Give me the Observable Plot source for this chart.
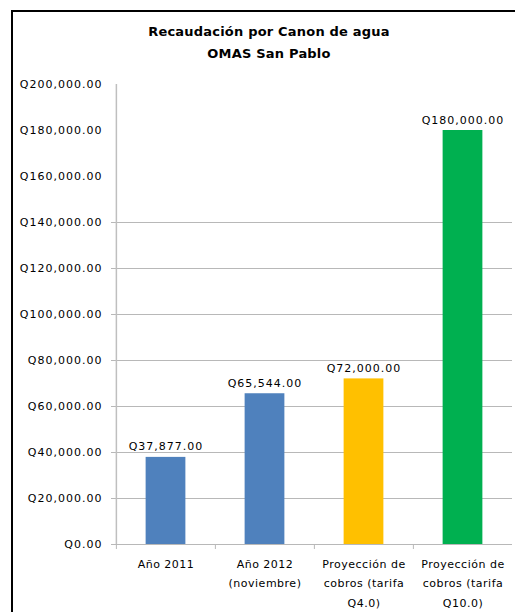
<!DOCTYPE html>
<html>
<head>
<meta charset="utf-8">
<script src="https://cdn.jsdelivr.net/npm/d3@7"></script>
<script src="https://cdn.jsdelivr.net/npm/@observablehq/plot@0.6"></script>
<style>
  html, body { margin: 0; padding: 0; background: #fff; }
  body { width: 515px; height: 612px; position: relative; overflow: hidden; font-family: "DejaVu Sans", sans-serif; }
  #frame { position: absolute; left: 11px; top: 10px; width: 600px; height: 700px; border-left: 2px solid #000; border-top: 2px solid #000; box-sizing: border-box; }
  #title { position: absolute; left: 0; top: 21px; width: 538px; text-align: center; font-weight: bold; font-size: 13px; line-height: 22px; letter-spacing: 0.2px; color: #000; }
  #chart { position: absolute; left: 0; top: 0; }
  #chart svg g[aria-label="y-axis tick label"] text,
  #chart svg g[aria-label="text"] text { letter-spacing: 1px; }
  #chart svg g[aria-label="x-axis tick label"] text { letter-spacing: 0.5px; }
</style>
</head>
<body>
<div id="frame"></div>
<div id="title">Recaudación por Canon de agua<br>OMAS San Pablo</div>
<div id="chart"></div>
<script>
const categories = ["Año 2011", "Año 2012 (noviembre)", "Proyección de cobros (tarifa Q4.0)", "Proyección de cobros (tarifa Q10.0)"];
const categoryLabels = ["Año 2011", "Año 2012\n(noviembre)", "Proyección de\ncobros (tarifa\nQ4.0)", "Proyección de\ncobros (tarifa\nQ10.0)"];
const values = [37877, 65544, 72000, 180000];
const barColors = ["#4F81BD", "#4F81BD", "#FFC000", "#00B050"];
const yTicks = [0, 20000, 40000, 60000, 80000, 100000, 120000, 140000, 160000, 180000, 200000];
const gridTicks = [0, 20000, 40000, 60000, 80000, 100000, 120000, 140000];

const data = categories.map((c, i) => ({cat: c, value: values[i], color: barColors[i]}));
const money = d => "Q" + d3.format(",.2f")(d);

const W = 515, H = 612;
const mL = 115, mR = 3, mT = 84, mB = 68;
const halfStep = (W - mL - mR) / categories.length / 2;
const barInset = halfStep - 20;

const chart = Plot.plot({
  width: W,
  height: H,
  marginLeft: mL,
  marginRight: mR,
  marginTop: mT,
  marginBottom: mB,
  style: {fontFamily: "DejaVu Sans, sans-serif", fontSize: "11px", color: "#000", background: "transparent"},
  x: {type: "band", domain: categories, padding: 0, label: null},
  y: {domain: [0, 200000], label: null},
  color: {type: "identity"},
  marks: [
    Plot.gridY(gridTicks, {stroke: "#b8b8b8", strokeOpacity: 1, strokeWidth: 1}),
    Plot.axisY({ticks: gridTicks, tickSize: 4, tickFormat: () => "", stroke: "#b8b8b8", strokeOpacity: 1}),
    Plot.axisY({ticks: yTicks, tickSize: 0, tickPadding: 13, tickFormat: money, fontSize: 11, fill: "#000"}),
    Plot.ruleX([categories[0]], {dx: -halfStep, y1: 0, y2: 200000, stroke: "#bfbfbf", strokeWidth: 1.5}),
    Plot.axisX({tickSize: 5, tickFormat: () => "", dx: -halfStep, stroke: "#b8b8b8", strokeOpacity: 1}),
    Plot.axisX({tickSize: 0, tickPadding: 10, tickFormat: d => categoryLabels[categories.indexOf(d)], lineHeight: 1.75, fontSize: 11, fill: "#000"}),
    Plot.barY(data, {x: "cat", y: "value", fill: "color", insetLeft: barInset, insetRight: barInset}),
    Plot.text(data, {x: "cat", y: "value", text: d => money(d.value), lineAnchor: "bottom", dy: -7, fontSize: 11, fill: "#000"})
  ]
});
document.getElementById("chart").appendChild(chart);
</script>
</body>
</html>
